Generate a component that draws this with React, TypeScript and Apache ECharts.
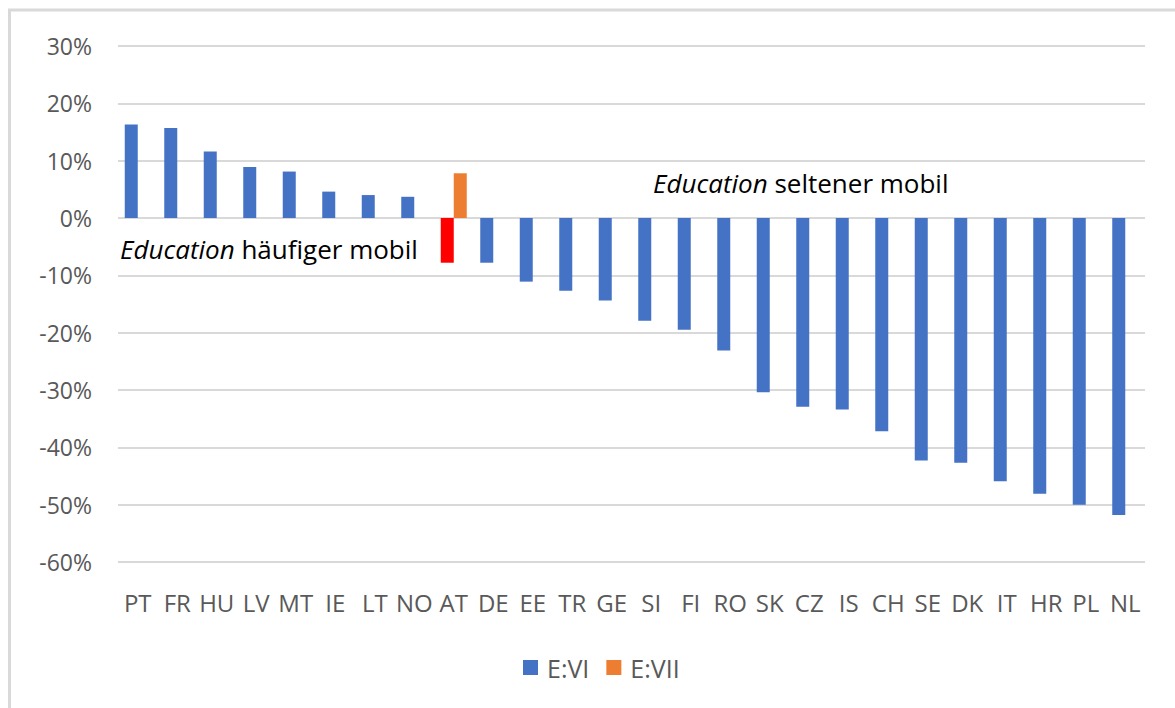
import React, { useEffect, useRef } from "react";
import * as echarts from "echarts";

const categories = ["PT", "FR", "HU", "LV", "MT", "IE", "LT", "NO", "AT", "DE", "EE", "TR", "GE", "SI", "FI", "RO", "SK", "CZ", "IS", "CH", "SE", "DK", "IT", "HR", "PL", "NL"];
const seriesEVI = [16.3, 15.7, 11.6, 8.9, 8.1, 4.6, 4.0, 3.7, -7.8, -7.8, -11.1, -12.7, -14.4, -17.9, -19.5, -23.1, -30.4, -32.9, -33.4, -37.2, -42.3, -42.7, -45.9, -48.1, -50.0, -51.8];
const seriesEVII: (number | null)[] = [null, null, null, null, null, null, null, null, 7.8, null, null, null, null, null, null, null, null, null, null, null, null, null, null, null, null, null];
const highlightCategory = "AT";
const yTicks = { min: -60, max: 30, interval: 10 };
const noteMore = { italic: "Education", rest: " häufiger mobil" };
const noteLess = { italic: "Education", rest: " seltener mobil" };

const FONT = "'Open Sans', sans-serif";
const GRAY = "#595959";

export default function App() {
  const ref = useRef<HTMLDivElement>(null);
  useEffect(() => {
    if (!ref.current) return;
    const chart = echarts.init(ref.current, undefined, { renderer: "svg" });
    const blue = "#4472C4";
    const orange = "#ED7D31";
    const noteRich = {
      i: { fontStyle: "italic", fontSize: 26, fontFamily: FONT, fill: "#000" },
      r: { fontSize: 26, fontFamily: FONT, fill: "#000" },
    };
    chart.setOption({
      animation: false,
      backgroundColor: "#fff",
      textStyle: { fontFamily: FONT },
      grid: { left: 118, right: 30, top: 46, bottom: 146, containLabel: false },
      legend: {
        left: 518,
        top: 650,
        itemWidth: 15,
        itemHeight: 15,
        itemGap: 17,
        icon: "rect",
        textStyle: { color: GRAY, fontSize: 25, fontFamily: FONT, padding: [0, 0, 0, 4] },
        data: ["E:VI", "E:VII"],
      },
      xAxis: {
        type: "category",
        data: categories,
        axisLine: { show: false, onZero: false },
        axisTick: { show: false },
        axisLabel: { interval: 0, color: GRAY, fontSize: 24, fontFamily: FONT, margin: 28 },
      },
      yAxis: {
        type: "value",
        min: yTicks.min,
        max: yTicks.max,
        interval: yTicks.interval,
        axisLine: { show: false },
        axisTick: { show: false },
        axisLabel: { formatter: "{value}%", color: GRAY, fontSize: 23, fontFamily: FONT, margin: 26 },
        splitLine: { lineStyle: { color: "#D9D9D9", width: 2 } },
      },
      series: [
        {
          name: "E:VI",
          type: "bar",
          barWidth: 13,
          barGap: "0%",
          itemStyle: { color: blue },
          data: seriesEVI.map((v, i) =>
            categories[i] === highlightCategory ? { value: v, itemStyle: { color: "#FF0000" } } : v
          ),
        },
        {
          name: "E:VII",
          type: "bar",
          barWidth: 13,
          barGap: "0%",
          itemStyle: { color: orange },
          data: seriesEVII,
        },
      ],
      graphic: [
        { type: "line", shape: { x1: 9.5, y1: 10, x2: 9.5, y2: 720 }, style: { stroke: "#D9D9D9", lineWidth: 3 } },
        { type: "line", shape: { x1: 8, y1: 10, x2: 1200, y2: 10 }, style: { stroke: "#D9D9D9", lineWidth: 3 } },
        {
          type: "text",
          left: 120,
          top: 236,
          style: { text: `{i|${noteMore.italic}}{r|${noteMore.rest}}`, rich: noteRich },
        },
        {
          type: "text",
          left: 653,
          top: 170,
          style: { text: `{i|${noteLess.italic}}{r|${noteLess.rest}}`, rich: noteRich },
        },
      ],
    });
    return () => chart.dispose();
  }, []);
  return (
    <div
      ref={ref}
      style={{ position: "fixed", left: 0, top: 0, width: 1175, height: 708, background: "#fff" }}
    />
  );
}
